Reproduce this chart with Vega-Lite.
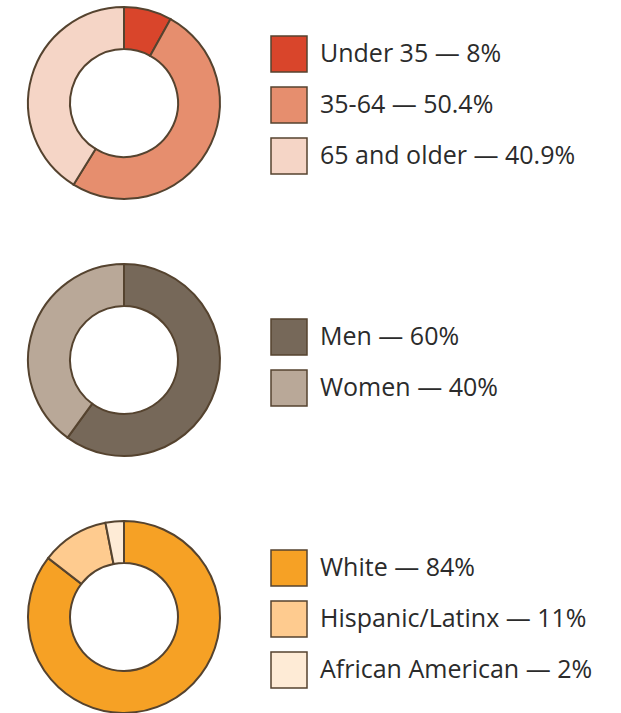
{
  "$schema": "https://vega.github.io/schema/vega-lite/v6.json",
  "padding": {"left": 24, "top": 3, "right": 0, "bottom": 0},
  "background": "white",
  "config": {
    "view": {"stroke": null},
    "font": "Open Sans",
    "legend": {
      "orient": "none",
      "title": null,
      "symbolType": "square",
      "symbolSize": 1296,
      "symbolStrokeColor": "#55432f",
      "symbolStrokeWidth": 1.5,
      "symbolOpacity": 1,
      "labelFont": "Open Sans",
      "labelFontSize": 25,
      "labelColor": "#2b2b2b",
      "labelOffset": 12,
      "rowPadding": 9,
      "labelLimit": 400,
      "padding": 0
    }
  },
  "spacing": 57,
  "resolve": {"scale": {"color": "independent"}, "legend": {"color": "independent"}},
  "vconcat": [
    {
      "width": 196,
      "height": 196,
      "data": {"values": [
        {"label": "Under 35 — 8%", "value": 8, "order": 1},
        {"label": "35-64 — 50.4%", "value": 50.4, "order": 2},
        {"label": "65 and older — 40.9%", "value": 40.9, "order": 3}
      ]},
      "mark": {"type": "arc", "outerRadius": 96, "innerRadius": 54, "stroke": "#55432f", "strokeWidth": 2},
      "encoding": {
        "theta": {"field": "value", "type": "quantitative", "stack": true},
        "order": {"field": "order", "type": "quantitative"},
        "color": {
          "field": "label", "type": "nominal",
          "scale": {"domain": ["Under 35 — 8%", "35-64 — 50.4%", "65 and older — 40.9%"], "range": ["#d9452b", "#e68e6e", "#f5d5c6"]},
          "legend": {"legendX": 244, "legendY": 30}
        }
      }
    },
    {
      "width": 196,
      "height": 196,
      "data": {"values": [
        {"label": "Men — 60%", "value": 60, "order": 1},
        {"label": "Women — 40%", "value": 40, "order": 2}
      ]},
      "mark": {"type": "arc", "outerRadius": 96, "innerRadius": 54, "stroke": "#55432f", "strokeWidth": 2},
      "encoding": {
        "theta": {"field": "value", "type": "quantitative", "stack": true},
        "order": {"field": "order", "type": "quantitative"},
        "color": {
          "field": "label", "type": "nominal",
          "scale": {"domain": ["Men — 60%", "Women — 40%"], "range": ["#766859", "#b9a898"]},
          "legend": {"legendX": 244, "legendY": 56}
        }
      }
    },
    {
      "width": 196,
      "height": 196,
      "data": {"values": [
        {"label": "White — 84%", "value": 85.5, "order": 1},
        {"label": "Hispanic/Latinx — 11%", "value": 11.4, "order": 2},
        {"label": "African American — 2%", "value": 3.1, "order": 3}
      ]},
      "mark": {"type": "arc", "outerRadius": 96, "innerRadius": 54, "stroke": "#55432f", "strokeWidth": 2},
      "encoding": {
        "theta": {"field": "value", "type": "quantitative", "stack": true},
        "order": {"field": "order", "type": "quantitative"},
        "color": {
          "field": "label", "type": "nominal",
          "scale": {"domain": ["White — 84%", "Hispanic/Latinx — 11%", "African American — 2%"], "range": ["#f6a125", "#fecb8f", "#feebd6"]},
          "legend": {"legendX": 244, "legendY": 30}
        }
      }
    }
  ]
}
